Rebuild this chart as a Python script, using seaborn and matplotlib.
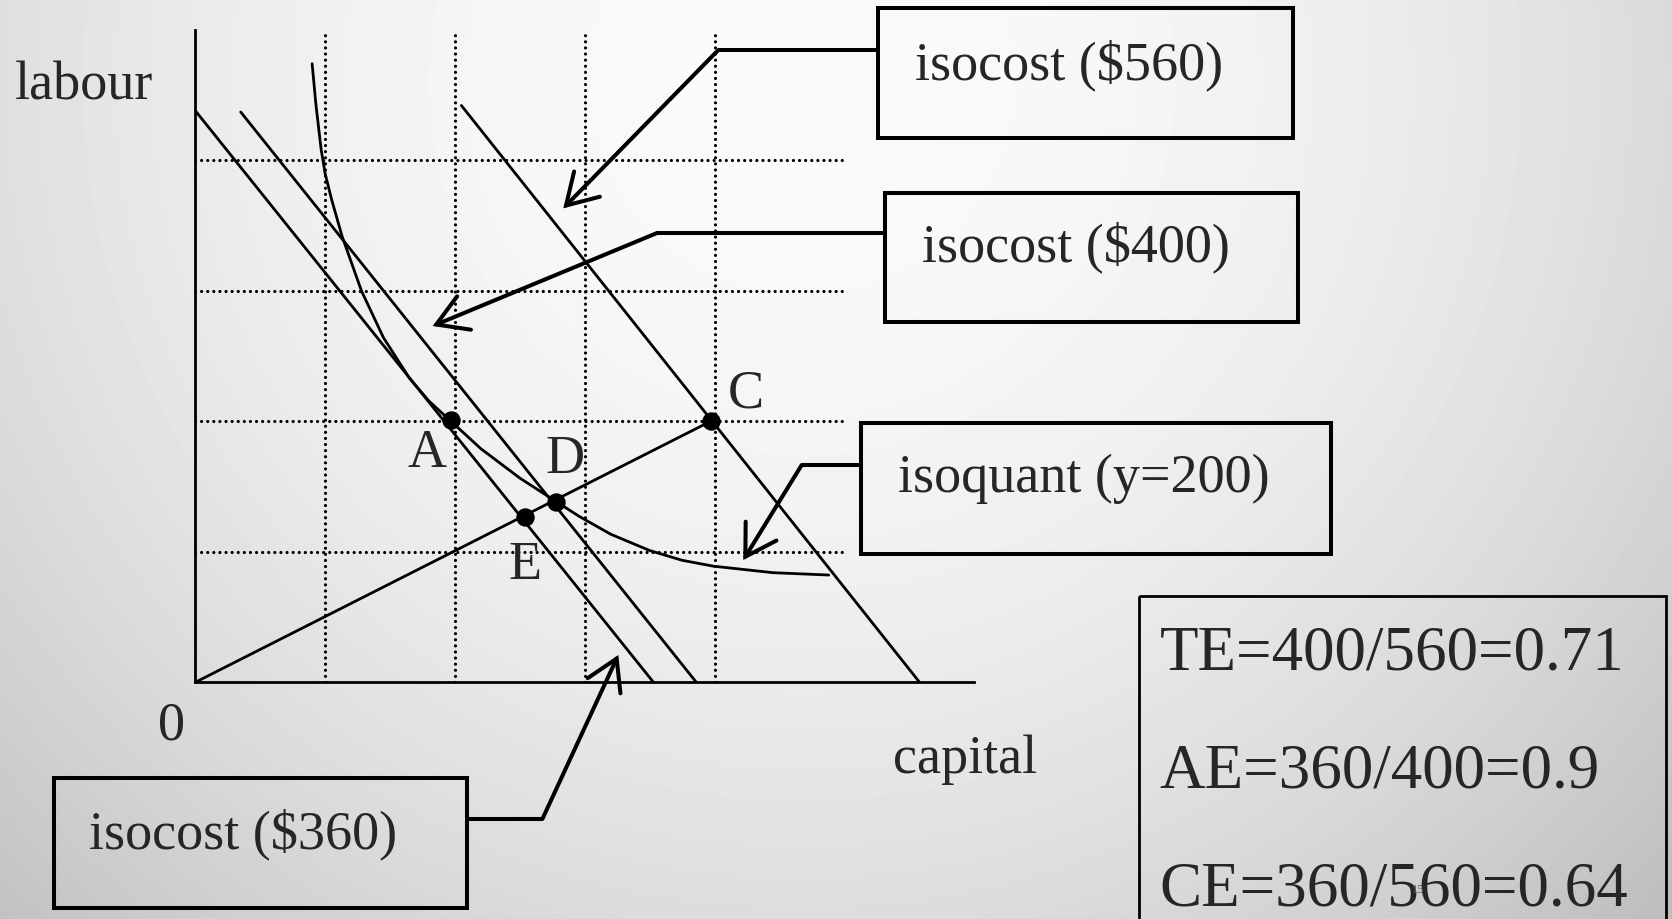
import numpy as np
import matplotlib
matplotlib.use("Agg")
import matplotlib.pyplot as plt
import seaborn as sns
from matplotlib.patches import Rectangle

# ---- data (capital on x, labour on y, grid units) ----
grid_x = [1, 2, 3, 4]
grid_y = [1, 2, 3, 4]

iso360_k = [0.0, 3.53]
iso360_l = [4.38, 0.0]
iso400_k = [0.35, 3.86]
iso400_l = [4.37, 0.0]
iso560_k = [2.05, 5.58]
iso560_l = [4.42, 0.0]

ray_k = [0.0, 3.97]
ray_l = [0.0, 2.0]

# isoquant (y=200)
isoq_k = [0.90, 0.93, 0.97, 1.00, 1.05, 1.13, 1.28, 1.45, 1.65, 1.80, 1.97, 2.20,
          2.50, 2.78, 2.96, 3.20, 3.50, 3.75, 3.99, 4.45, 4.88]
isoq_l = [4.74, 4.42, 4.08, 3.90, 3.70, 3.42, 3.00, 2.64, 2.33, 2.155, 2.00, 1.79,
          1.565, 1.385, 1.27, 1.135, 1.01, 0.935, 0.89, 0.84, 0.822]

pt_names = ["A", "D", "E", "C"]
pt_k = [1.97, 2.78, 2.54, 3.97]
pt_l = [2.01, 1.385, 1.265, 2.0]

box_labels = [r"isocost (\$560)", r"isocost (\$400)", "isoquant (y=200)", r"isocost (\$360)"]
ratios = ["TE=400/560=0.71", "AE=360/400=0.9", "CE=360/560=0.64"]

sns.set_style("white")
plt.rcParams["font.family"] = ["Liberation Serif", "DejaVu Serif"]

W, H = 1672, 919
fig = plt.figure(figsize=(W / 100, H / 100), dpi=100)

# slide background (light grey gradient)
bg = fig.add_axes([0, 0, 1, 1], zorder=0)
yy, xx = np.mgrid[0:H:4, 0:W:4]
r2 = ((xx - 800) ** 2 + (yy - 80) ** 2) / 1100.0 ** 2
bg.imshow(0.98 - 0.2 * r2, cmap="gray", vmin=0, vmax=1, extent=[0, W, H, 0],
          aspect="auto", interpolation="bicubic")
bg.axis("off")

# main diagram axes, origin at (195, 682) px, 1 unit ~ 130 px
ax = fig.add_axes([195.3 / W, (H - 682.3) / H, 6 * 129.8 / W, 5.0 * 130.5 / H], zorder=2)
ax.patch.set_visible(False)
ax.set_xlim(0, 6)
ax.set_ylim(0, 5.0)
ax.set_xticks([])
ax.set_yticks([])
for s in ["top", "right"]:
    ax.spines[s].set_visible(False)
for s in ["left", "bottom"]:
    ax.spines[s].set_linewidth(2.0)
    ax.spines[s].set_color("black")

dots = dict(color="black", lw=2.3, linestyle=(0, (0.01, 1.9)), capstyle="round")
ax.vlines(grid_x, 0, 4.97, **dots)
ax.hlines(grid_y, 0, 4.98, **dots)

for k, l in [(iso360_k, iso360_l), (iso400_k, iso400_l), (iso560_k, iso560_l), (ray_k, ray_l)]:
    sns.lineplot(x=k, y=l, ax=ax, color="black", lw=2.0, estimator=None, sort=False)
sns.lineplot(x=isoq_k, y=isoq_l, ax=ax, color="black", lw=2.0, estimator=None, sort=False)
sns.scatterplot(x=pt_k, y=pt_l, ax=ax, color="black", s=150, edgecolor="black", zorder=5)

# overlay in pixel coordinates for labels, boxes and arrows
ov = fig.add_axes([0, 0, 1, 1], zorder=3)
ov.set_xlim(0, W)
ov.set_ylim(H, 0)
ov.axis("off")
ov.patch.set_visible(False)

fs = 39
ov.text(15, 100, "labour", fontsize=fs, va="baseline")
ov.text(893, 773, "capital", fontsize=fs, va="baseline")
ov.text(171, 740, "0", fontsize=fs, va="baseline", ha="center")
lab_pos = {"A": (408, 467), "D": (545, 473), "E": (508, 579), "C": (728, 408)}
for n in pt_names:
    ov.text(*lab_pos[n], n, fontsize=fs, va="baseline")

boxes = [(878.3, 8.3, 1292.7, 138.3), (885, 192.7, 1298.3, 321.7),
         (861, 423.3, 1331, 554), (53.6, 777.7, 467.4, 908.3)]
text_pos = [(915, 79), (921.7, 261.7), (898.3, 491.7), (89, 848)]
for (x0, y0, x1, y1), (tx, ty), t in zip(boxes, text_pos, box_labels):
    ov.add_patch(Rectangle((x0, y0), x1 - x0, y1 - y0, fill=False, lw=2.9, ec="black"))
    ov.text(tx, ty, t, fontsize=fs, va="baseline")

# connectors: box edge -> elbow -> arrow tip
connectors = [((878.3, 50), (718.3, 50), (563.3, 208.3)),
              ((885, 233.3), (656.3, 233.3), (432.7, 326)),
              ((861, 465), (801.7, 465), (743.3, 560)),
              ((467.4, 819), (542.4, 819), (618.3, 655))]
for start, elbow, tip in connectors:
    ov.plot([start[0], elbow[0]], [start[1], elbow[1]], color="black", lw=2.9,
            solid_capstyle="butt")
    ov.annotate("", xy=tip, xytext=elbow,
                arrowprops=dict(arrowstyle="->,head_length=1.08,head_width=0.65",
                                mutation_scale=20, lw=2.9, color="black",
                                shrinkA=0, shrinkB=0, joinstyle="miter"))

# efficiency ratios box
ov.add_patch(Rectangle((1138.6, 595.6), 527, 340, fill=False, lw=2.0, ec="black"))
for t, by in zip(ratios, [670, 787, 905]):
    ov.text(1159.4, by, t, fontsize=45.4, va="baseline")
ov.text(1412, 893, "15", fontsize=9, color="#606060", va="baseline")

fig.savefig("out.png", dpi=100)
